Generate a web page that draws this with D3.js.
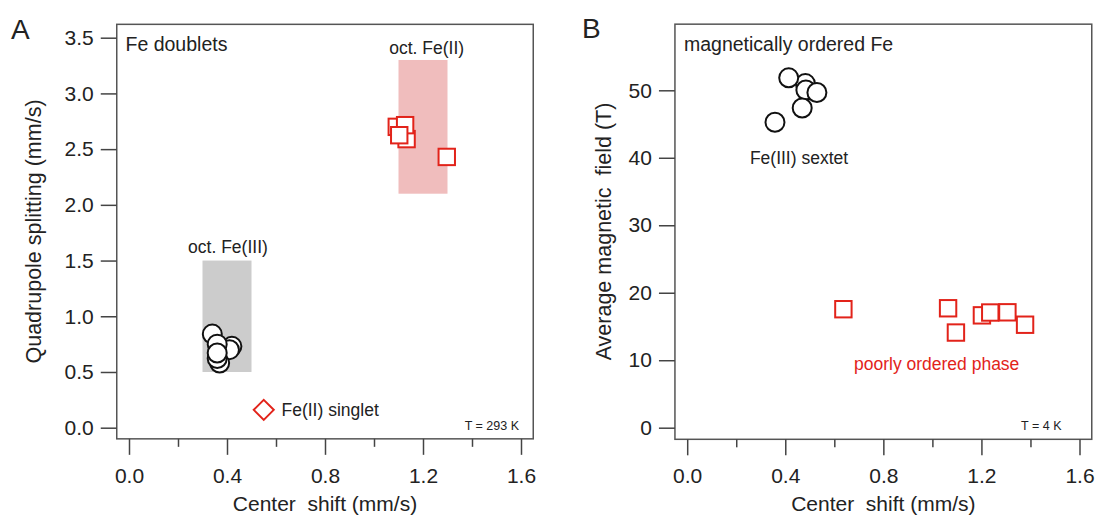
<!DOCTYPE html>
<html>
<head>
<meta charset="utf-8">
<script src="https://cdn.jsdelivr.net/npm/d3@7"></script>
<style>
  body { margin: 0; background: #fff; }
  text { font-family: "Liberation Sans", Arial, sans-serif; fill: #222; }
</style>
</head>
<body>
<div id="chart"></div>
<script>
// --------------------------------------------------
// Mossbauer parameters, two panels (A: doublets, B: sextets)
// --------------------------------------------------

// panel A - octahedral Fe(III) doublets (black circles)
var feIIICS = [0.34, 0.42, 0.41, 0.37, 0.36, 0.36, 0.36];
var feIIIQS = [0.84, 0.73, 0.70, 0.58, 0.62, 0.75, 0.67];

// panel A - octahedral Fe(II) doublets (red squares)
var feIICS = [1.133, 1.093, 1.127, 1.103, 1.297];
var feIIQS = [2.59, 2.70, 2.715, 2.625, 2.43];

// panel A - Fe(II) singlet (red diamond)
var singletCS = [0.55];
var singletQS = [0.16];

// shaded ranges [csMin, csMax, qsMin, qsMax]
var octFeIIIRange = [0.3, 0.5, 0.5, 1.5];
var octFeIIRange = [1.1, 1.3, 2.1, 3.3];

// panel B - Fe(III) sextet (black circles)
var sextetCS = [0.482, 0.414, 0.484, 0.529, 0.469, 0.358];
var sextetBhf = [51.0, 51.85, 50.05, 49.67, 47.38, 45.27];

// panel B - poorly ordered phase (red squares)
var poorCS = [0.637, 1.064, 1.096, 1.202, 1.236, 1.306, 1.378];
var poorBhf = [17.56, 17.7, 14.1, 16.65, 17.07, 17.1, 15.26];

// ticks
var csTicks = [0, 0.4, 0.8, 1.2, 1.6];
var csMinorTicks = [0.2, 0.6, 1.0, 1.4];
var qsTicks = [0, 0.5, 1.0, 1.5, 2.0, 2.5, 3.0, 3.5];
var bhfTicks = [0, 10, 20, 30, 40, 50];

var width = 1096;
var height = 517;
var red = "#e2231a";

var svg = d3.select("#chart")
  .append("svg")
  .attr("width", width)
  .attr("height", height);

function zip(a, b) {
  return a.map(function(d, i) { return { x: d, y: b[i] }; });
}

function styleAxis(a) {
  a.select(".domain").remove();
  a.selectAll("line").attr("stroke", "#444").attr("stroke-width", 1.5);
  a.selectAll("text")
    .style("font-family", "'Liberation Sans', Arial, sans-serif")
    .style("font-size", "21px")
    .attr("fill", "#222");
}

// frame box plus hanging ticks, like the original Igor-style plot
function drawFrameAndAxes(g, x, y, xr, yr, yTicks, yFormat) {
  var left = x(xr[0]), right = x(xr[1]);
  var top = y(yr[1]), bottom = y(yr[0]);

  g.append("rect")
    .attr("x", left)
    .attr("y", top)
    .attr("width", right - left)
    .attr("height", bottom - top)
    .attr("fill", "none")
    .attr("stroke", "#555")
    .attr("stroke-width", 1.5);

  g.append("g")
    .attr("transform", "translate(0," + bottom + ")")
    .call(d3.axisBottom(x).tickValues(csTicks).tickSize(16).tickPadding(13)
      .tickFormat(d3.format(".1f")))
    .call(styleAxis);

  g.append("g")
    .attr("transform", "translate(0," + bottom + ")")
    .call(d3.axisBottom(x).tickValues(csMinorTicks).tickSize(8).tickFormat(""))
    .call(styleAxis);

  g.append("g")
    .attr("transform", "translate(" + left + ",0)")
    .call(d3.axisLeft(y).tickValues(yTicks).tickSize(16).tickPadding(7)
      .tickFormat(yFormat))
    .call(styleAxis);
}

function drawCircles(g, data, x, y) {
  g.selectAll(null)
    .data(data)
    .enter()
    .append("circle")
    .attr("cx", function(d) { return x(d.x); })
    .attr("cy", function(d) { return y(d.y); })
    .attr("r", 9.5)
    .attr("fill", "#fff")
    .attr("stroke", "#111")
    .attr("stroke-width", 2);
}

function drawSquares(g, data, x, y) {
  g.selectAll(null)
    .data(data)
    .enter()
    .append("rect")
    .attr("x", function(d) { return x(d.x) - 8.2; })
    .attr("y", function(d) { return y(d.y) - 8.2; })
    .attr("width", 16.4)
    .attr("height", 16.4)
    .attr("fill", "#fff")
    .attr("stroke", red)
    .attr("stroke-width", 2);
}

function drawRange(g, r, x, y, color) {
  g.append("rect")
    .attr("x", x(r[0]))
    .attr("y", y(r[3]))
    .attr("width", x(r[1]) - x(r[0]))
    .attr("height", y(r[2]) - y(r[3]))
    .attr("fill", color);
}

// ---------------- panel A ----------------
var xA = d3.scaleLinear().domain([0, 1.6]).range([129, 521]);
var yA = d3.scaleLinear().domain([0, 3.5]).range([427.7, 37.7]);
var gA = svg.append("g");

drawRange(gA, octFeIIIRange, xA, yA, "#cccccc");
drawRange(gA, octFeIIRange, xA, yA, "#f0bdbd");
drawFrameAndAxes(gA, xA, yA, [-0.05, 1.65], [-0.1, 3.62], qsTicks, d3.format(".1f"));

drawCircles(gA, zip(feIIICS, feIIIQS), xA, yA);
drawSquares(gA, zip(feIICS, feIIQS), xA, yA);

gA.selectAll(null)
  .data(zip(singletCS, singletQS))
  .enter()
  .append("path")
  .attr("transform", function(d) { return "translate(" + xA(d.x) + "," + yA(d.y) + ")"; })
  .attr("d", "M0,-10L10,0L0,10L-10,0Z")
  .attr("fill", "#fff")
  .attr("stroke", red)
  .attr("stroke-width", 2);

gA.append("text").attr("x", 125.5).attr("y", 50.5)
  .style("font-size", "19.5px").text("Fe doublets");
gA.append("text").attr("x", xA(1.215)).attr("y", 53.5)
  .attr("text-anchor", "middle").style("font-size", "17.5px").text("oct. Fe(II)");
gA.append("text").attr("x", xA(0.404)).attr("y", 253)
  .attr("text-anchor", "middle").style("font-size", "17.5px").text("oct. Fe(III)");
gA.append("text").attr("x", 281.5).attr("y", 416)
  .style("font-size", "17.5px").text("Fe(II) singlet");
gA.append("text").attr("x", 519).attr("y", 430)
  .attr("text-anchor", "end").style("font-size", "12.5px").text("T = 293 K");

gA.append("text").attr("x", xA(0.8)).attr("y", 511)
  .attr("text-anchor", "middle").style("font-size", "21px")
  .style("white-space", "pre").text("Center  shift (mm/s)");
gA.append("text")
  .attr("transform", "translate(41,231.5) rotate(-90)")
  .attr("text-anchor", "middle").style("font-size", "21.5px")
  .text("Quadrupole splitting (mm/s)");
gA.append("text").attr("x", 11).attr("y", 39)
  .style("font-size", "28px").text("A");

// ---------------- panel B ----------------
var xB = d3.scaleLinear().domain([0, 1.6]).range([687.2, 1079.5]);
var yB = d3.scaleLinear().domain([0, 50]).range([427.7, 90.3]);
var gB = svg.append("g");

drawFrameAndAxes(gB, xB, yB, [-0.05, 1.65], [-1.72, 59.8], bhfTicks, d3.format("d"));

drawCircles(gB, zip(sextetCS, sextetBhf), xB, yB);
drawSquares(gB, zip(poorCS, poorBhf), xB, yB);

gB.append("text").attr("x", 684).attr("y", 50.5)
  .style("font-size", "19.5px").text("magnetically ordered Fe");
gB.append("text").attr("x", xB(0.456)).attr("y", 163.5)
  .attr("text-anchor", "middle").style("font-size", "17.5px").text("Fe(III) sextet");
gB.append("text").attr("x", xB(1.0175)).attr("y", 370)
  .attr("text-anchor", "middle").style("font-size", "17.5px")
  .style("fill", red).text("poorly ordered phase");
gB.append("text").attr("x", 1061.5).attr("y", 430)
  .attr("text-anchor", "end").style("font-size", "12.5px").text("T = 4 K");

gB.append("text").attr("x", xB(0.8)).attr("y", 511)
  .attr("text-anchor", "middle").style("font-size", "21px")
  .style("white-space", "pre").text("Center  shift (mm/s)");
gB.append("text")
  .attr("transform", "translate(611,231.5) rotate(-90)")
  .attr("text-anchor", "middle").style("font-size", "21.5px")
  .style("white-space", "pre").text("Average magnetic  field (T)");
gB.append("text").attr("x", 582).attr("y", 38)
  .style("font-size", "28px").text("B");
</script>
</body>
</html>
